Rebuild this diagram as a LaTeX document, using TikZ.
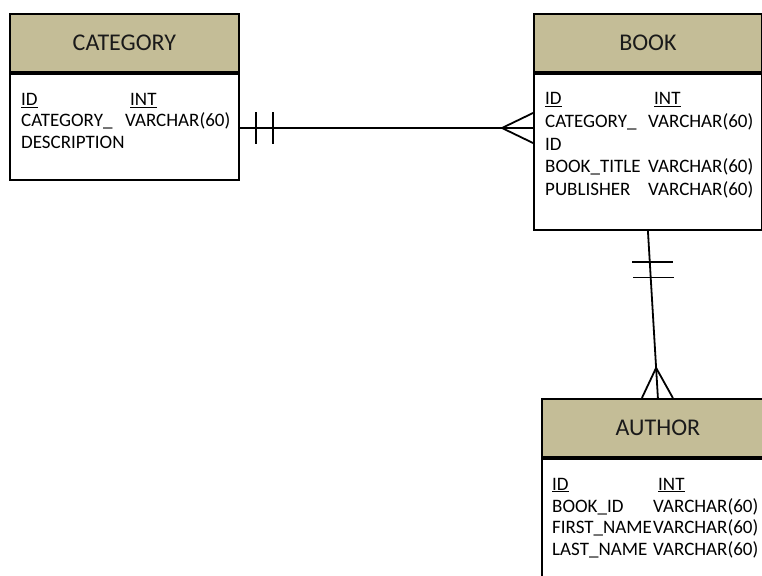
\documentclass[tikz,border=0pt]{standalone}
\usepackage{fontspec}
\setmainfont{Carlito}
\usetikzlibrary{positioning,calc}
\definecolor{tanhead}{HTML}{C4BD97}
\definecolor{inkgrey}{HTML}{1A1A1A}
\tikzset{
  headbox/.style={draw, line width=1.8pt, fill=tanhead, minimum height=58pt, inner sep=0pt,
                  anchor=north west, font=\fontsize{24}{28}\selectfont, text=inkgrey},
  bodybox/.style={draw, line width=1.8pt, fill=white, inner sep=0pt, anchor=north west},
  field/.style={anchor=base west, inner sep=0pt, font=\fontsize{19}{22}\selectfont, text=black},
  link/.style={line width=1.8pt, line cap=butt},
}

\begin{document}
\begin{tikzpicture}[x=1pt, y=-1pt]
    \useasboundingbox (0,0) rectangle (762,575);
    \fill[white] (0,0) rectangle (762,575);
    \clip (0,0) rectangle (762,575);

    % CATEGORY
    \node[headbox, minimum width=229pt] (cathead) at (9,13) {CATEGORY};
    \node[bodybox, minimum width=229pt, minimum height=106pt] (catbody) at (cathead.south west) {};
    \node[field] (catid) at (21,106) {\underline{ID}};
    \node[field] (catidt) at (130,106) {\underline{INT}};
    \node[field] (catdesc) at (21,127) {CATEGORY\_};
    \node[field] (catdesct) at (125,127) {VARCHAR(60)};
    \node[field] (catdesc2) at (21,148) {DESCRIPTION};

    % BOOK
    \node[headbox, minimum width=228pt] (bookhead) at (533,13) {BOOK};
    \node[bodybox, minimum width=228pt, minimum height=156pt] (bookbody) at (bookhead.south west) {};
    \node[field] (bookid) at (545,105) {\underline{ID}};
    \node[field] (bookidt) at (654,105) {\underline{INT}};
    \node[field] (bookcat) at (545,127.5) {CATEGORY\_};
    \node[field] (bookcatt) at (648,127.5) {VARCHAR(60)};
    \node[field] (bookcat2) at (545,150) {ID};
    \node[field] (booktitle) at (545,172.5) {BOOK\_TITLE};
    \node[field] (booktitlet) at (648,172.5) {VARCHAR(60)};
    \node[field] (bookpub) at (545,195) {PUBLISHER};
    \node[field] (bookpubt) at (648,195) {VARCHAR(60)};

    % AUTHOR
    \node[headbox, minimum width=232pt] (authhead) at (541,398) {AUTHOR};
    \node[bodybox, minimum width=232pt, minimum height=200pt] (authbody) at (authhead.south west) {};
    \node[field] (authid) at (552,490) {\underline{ID}};
    \node[field] (authidt) at (658,490) {\underline{INT}};
    \node[field] (authbook) at (552,512) {BOOK\_ID};
    \node[field] (authbookt) at (653,512) {VARCHAR(60)};
    \node[field] (authfirst) at (552,533.5) {FIRST\_NAME};
    \node[field] (authfirstt) at (653,533.5) {VARCHAR(60)};
    \node[field] (authlast) at (552,555) {LAST\_NAME};
    \node[field] (authlastt) at (653,555) {VARCHAR(60)};

    % category -- book
    \coordinate (catlink) at (catbody.east |- 0,128);
    \coordinate (booklink) at (bookbody.west |- 0,128);
    \draw[link] (catlink) -- (booklink);
    \draw[link] ($(catlink)+(16,-15.5)$) -- ($(catlink)+(16,15.5)$);
    \draw[link] ($(catlink)+(33,-15.5)$) -- ($(catlink)+(33,15.5)$);
    \draw[link] ($(booklink)+(0,-15)$) -- ($(booklink)+(-31,0)$) -- ($(booklink)+(0,15)$);

    % book -- author
    \draw[link] (bookbody.south) -- (authhead.north);
    \coordinate (bartop) at ($(bookbody.south)!0.187!(authhead.north)$);
    \coordinate (barlow) at ($(bookbody.south)!0.28!(authhead.north)$);
    \draw[link] ($(bartop)+(-17.5,0)$) -- ($(bartop)+(23.5,0)$);
    \draw[link] ($(barlow)+(-17.5,0)$) -- ($(barlow)+(23.5,0)$);
    \coordinate (crowtip) at ($(bookbody.south)!0.82!(authhead.north)$);
    \draw[link] ([xshift=-16pt]authhead.north) -- (crowtip) -- ([xshift=15pt]authhead.north);
\end{tikzpicture}
\end{document}
